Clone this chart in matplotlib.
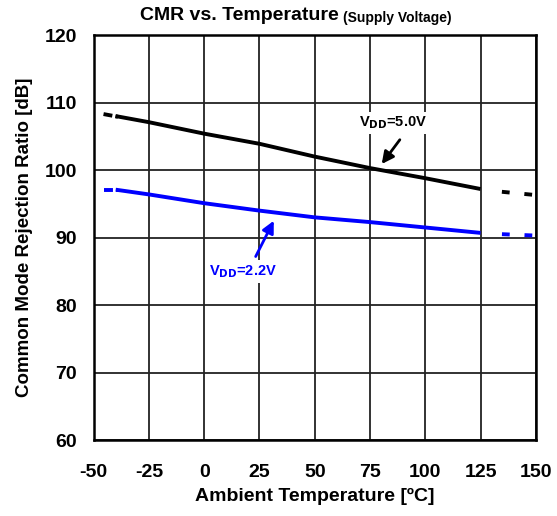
import numpy as np
import matplotlib
matplotlib.use("Agg")
import matplotlib.pyplot as plt

plt.rcParams['font.family'] = ['Liberation Sans', 'DejaVu Sans']
plt.rcParams['font.weight'] = 'bold'
plt.rcParams['axes.unicode_minus'] = False

# measured range
temp = [-40, -25, 0, 25, 50, 75, 100, 125]
cmr_5v0 = [108.0, 107.1, 105.4, 103.9, 102.0, 100.3, 98.8, 97.2]
cmr_2v2 = [97.1, 96.4, 95.1, 94.0, 93.0, 92.3, 91.5, 90.7]

# dashed extrapolation at the ends
ext_lo_t = [-45.5, -39]
ext_hi_t = [128, 150]
ext_5v0_lo = [108.3, 107.9]
ext_5v0_hi = [97.0, 96.3]
ext_2v2_lo = [97.1, 97.1]
ext_2v2_hi = [90.6, 90.3]

xticks = np.arange(-50, 151, 25)
yticks = np.arange(60, 121, 10)

fig = plt.figure(figsize=(5.57, 5.16), dpi=100)
ax = fig.add_axes([0.168, 0.147, 0.794, 0.785])

lw = 2.8
ax.plot(temp, cmr_5v0, color='black', lw=lw, solid_capstyle='butt')
ax.plot(ext_lo_t, ext_5v0_lo, color='black', lw=lw, ls=(0, (2.3, 0.8)))
ax.plot(ext_hi_t, ext_5v0_hi, color='black', lw=lw, ls=(2.0, (2.0, 3.8)))
ax.plot(temp, cmr_2v2, color='#0000ff', lw=lw, solid_capstyle='butt')
ax.plot(ext_lo_t, ext_2v2_lo, color='#0000ff', lw=lw, ls=(0, (2.3, 0.8)))
ax.plot(ext_hi_t, ext_2v2_hi, color='#0000ff', lw=lw, ls=(2.0, (2.0, 3.8)))

ax.set_xlim(-50, 150)
ax.set_ylim(60, 120)
ax.set_xticks(xticks)
ax.set_yticks(yticks)
ax.tick_params(axis='y', length=0, labelsize=14, pad=12)
ax.tick_params(axis='x', length=0, labelsize=14, pad=17)
ax.grid(True, color='#222222', lw=1.3)
for s in ax.spines.values():
    s.set_linewidth(1.8)
    s.set_color('black')

ax.set_xlabel('Ambient Temperature [ºC]', fontsize=14, fontweight='bold', labelpad=5)
ax.set_ylabel('Common Mode Rejection Ratio [dB]', fontsize=13.5, fontweight='bold', labelpad=8)

fig.text(0.609, 0.969, 'CMR vs. Temperature', fontsize=14, fontweight='bold', ha='right', va='center')
fig.text(0.616, 0.965, '(Supply Voltage)', fontsize=10, fontweight='bold', ha='left', va='center')

# arrows
ax.annotate('', xy=(80.3, 100.9), xytext=(88.5, 104.5),
            arrowprops=dict(arrowstyle='-|>', color='black', lw=2, mutation_scale=18,
                            shrinkA=0, shrinkB=0))
ax.annotate('', xy=(31.5, 92.5), xytext=(23.3, 87.2),
            arrowprops=dict(arrowstyle='-|>', color='#0000ff', lw=2, mutation_scale=18,
                            shrinkA=0, shrinkB=0))
ax.text(85.3, 107.0, 'V$_{\\mathbf{DD}}$=5.0V', fontsize=10.5, fontweight='bold', color='black',
        ha='center', va='center', bbox=dict(boxstyle='square,pad=0.2', fc='white', ec='none'))
ax.text(17.4, 85.0, 'V$_{\\mathbf{DD}}$=2.2V', fontsize=10.5, fontweight='bold', color='#0000ff',
        ha='center', va='center', bbox=dict(boxstyle='square,pad=0.2', fc='white', ec='none'))

fig.savefig('out.png', dpi=100)
